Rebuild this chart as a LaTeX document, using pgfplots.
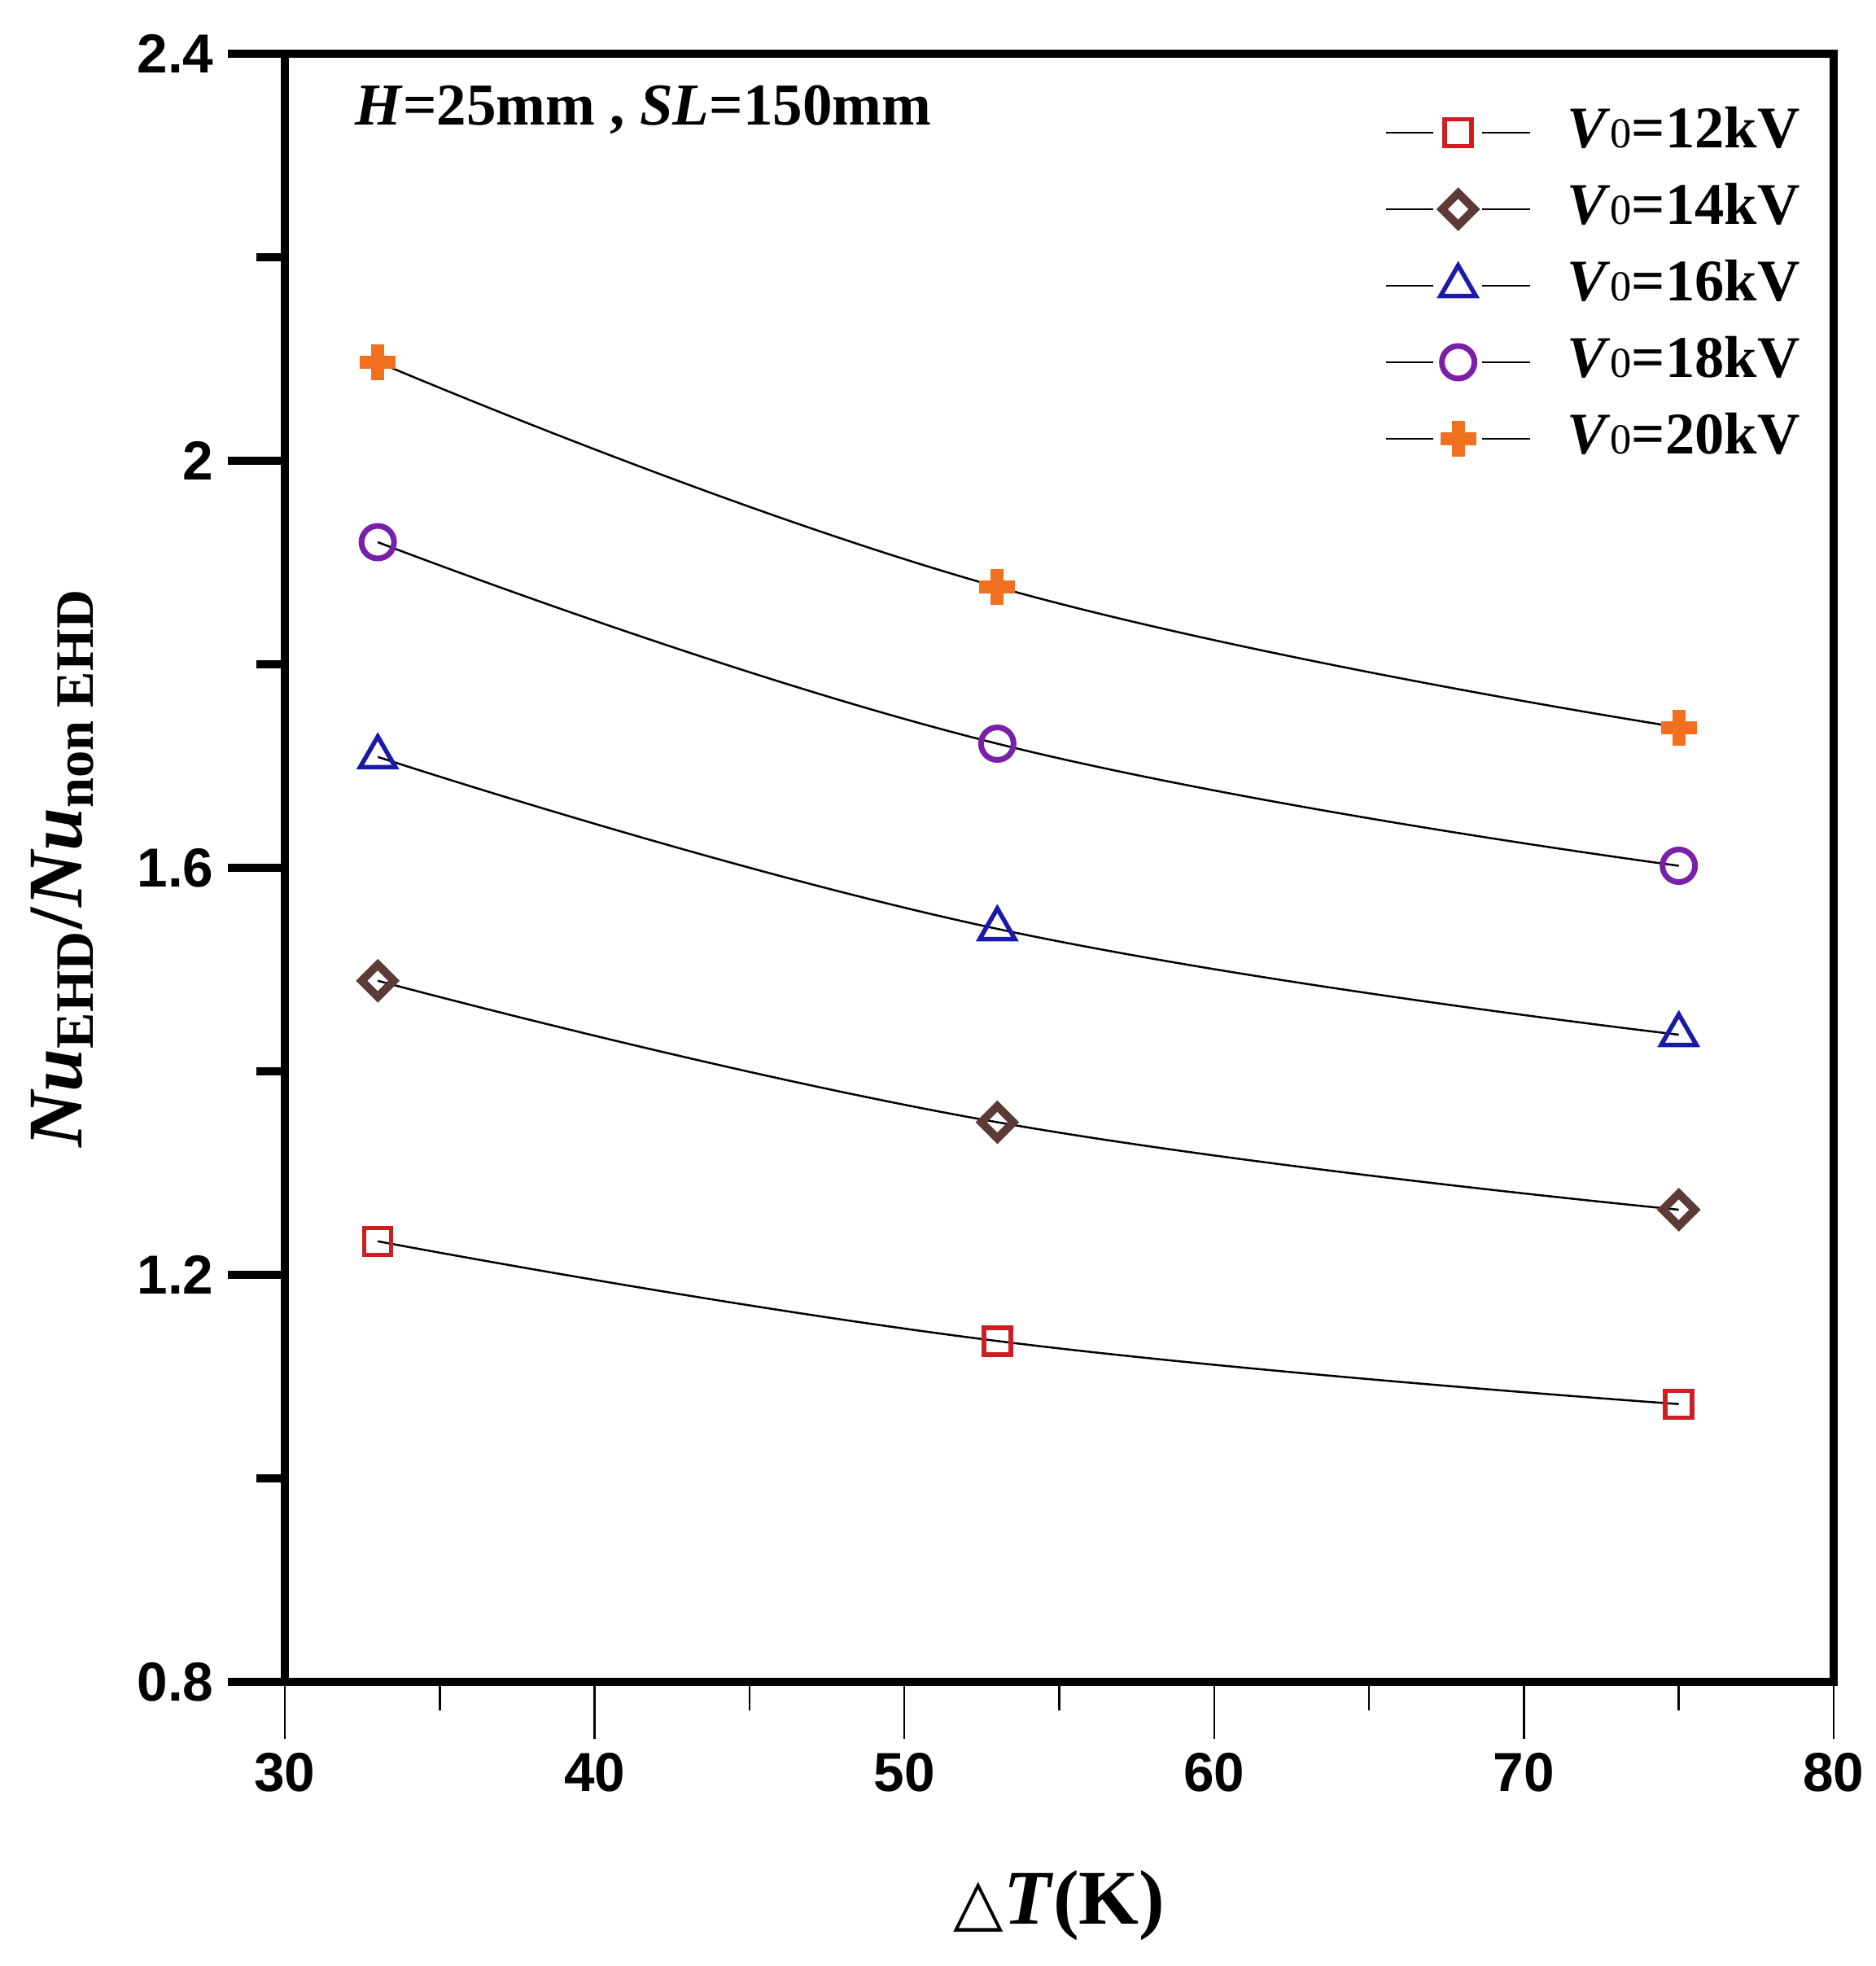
\documentclass[border=0pt]{standalone}
\usepackage{fontspec}
\setmainfont{Liberation Serif}
\newfontfamily\ticksf{Liberation Sans}
\newfontfamily\dejavu{DejaVu Sans}
\usepackage{pgfplots}
\pgfplotsset{compat=1.18}
\definecolor{c12}{RGB}{205,30,35}
\definecolor{c14}{RGB}{92,58,54}
\definecolor{c16}{RGB}{26,26,168}
\definecolor{c18}{RGB}{122,31,168}
\definecolor{c20}{RGB}{240,112,32}
\newcommand{\Vo}[1]{\textbf{\textit{V}}{\fontsize{10.5}{10.5}\selectfont 0}\textbf{=#1kV}}
\begin{document}
\begin{tikzpicture}
\begin{axis}[
  name=ax,
  scale only axis,
  width=380.6pt, height=400pt,
  xmin=30, xmax=80, ymin=0.8, ymax=2.4,
  xtick={30,40,50,60,70,80},
  ytick={0.8,1.2,1.6,2,2.4},
  minor x tick num=1, minor y tick num=1,
  tick pos=left, tick align=outside,
  major tick length=14pt, minor tick length=7pt,
  xtick style={line width=0.5pt, black},
  ytick style={line width=2pt, black},
  axis line style={line width=2pt},
  /pgf/number format/assume math mode=true,
  ticklabel style={font=\ticksf\bfseries\fontsize{13.5}{13.5}\selectfont},
  xlabel={{\dejavu\fontsize{16}{16}\selectfont △}\textbf{\textit{T}}\textbf{(K)}},
  xlabel style={font=\fontsize{19}{19}\selectfont, at={(axis description cs:0.5,-0.1375)}, anchor=center},
  ylabel={\textbf{\textit{Nu}}\textsubscript{\textbf{EHD}}\textbf{/}\textbf{\textit{Nu}}\textsubscript{\textbf{non EHD}}},
  ylabel style={font=\fontsize{19}{19}\selectfont, at={(axis description cs:-0.1435,0.5)}, anchor=center},
  legend style={draw=none, fill=none, at={(axis description cs:0.702,0.9805)}, anchor=north west,
    font=\fontsize{14.5}{14.5}\selectfont,
    nodes={text height=11pt, text depth=3.8pt, inner sep=2pt}, row sep=0pt},
  legend cell align=left,
  legend image code/.code={
    \draw[black,line width=0.5pt] (0pt,0pt) -- (11.5pt,0pt);
    \draw[black,line width=0.5pt] (23.5pt,0pt) -- (35.4pt,0pt);
    \path (42.2pt,0pt);
    \draw[#1] plot coordinates {(17.7pt,0pt)};
  },
]
\addplot[black, line width=0.5pt, smooth, tension=0.75, mark=square, mark size=3.3pt,
  mark options={draw=c12, line width=1.1pt, solid}]
  coordinates {(33,1.233) (53,1.135) (75,1.073)};
\addlegendentry{\Vo{12}}
\addplot[black, line width=0.5pt, smooth, tension=0.75, mark=square, mark size=2.8pt,
  mark options={draw=c14, rotate=45, line width=2pt, solid}]
  coordinates {(33,1.489) (53,1.350) (75,1.264)};
\addlegendentry{\Vo{14}}
\addplot[black, line width=0.5pt, smooth, tension=0.75, mark=triangle, mark size=5pt,
  mark options={draw=c16, line width=1.1pt, solid}]
  coordinates {(33,1.709) (53,1.540) (75,1.436)};
\addlegendentry{\Vo{16}}
\addplot[black, line width=0.5pt, smooth, tension=0.75, mark=o, mark size=4pt,
  mark options={draw=c18, line width=1.4pt, solid}]
  coordinates {(33,1.920) (53,1.722) (75,1.602)};
\addlegendentry{\Vo{18}}
\addplot[black, line width=0.5pt, smooth, tension=0.75, mark=+, mark size=4.4pt,
  mark options={draw=c20, line width=3.2pt, solid}]
  coordinates {(33,2.097) (53,1.876) (75,1.738)};
\addlegendentry{\Vo{20}}
\node[anchor=west, inner sep=0pt] at (rel axis cs:0.045,0.9655)
  {\fontsize{14.6}{14.6}\selectfont\bfseries\textit{H}=25mm , \textit{SL}=150mm};
\end{axis}
\pgfresetboundingbox
\path[use as bounding box] ([xshift=-70pt,yshift=-69.8pt]ax.south west) rectangle ([xshift=10.4pt,yshift=13.2pt]ax.north east);
\end{tikzpicture}
\end{document}
